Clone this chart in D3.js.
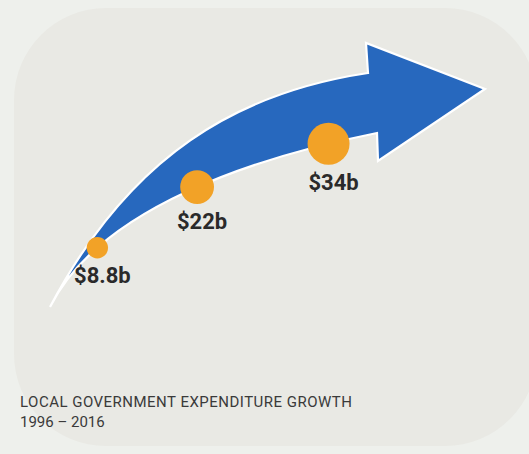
<!DOCTYPE html>
<html>
<head>
<meta charset="utf-8">
<script src="https://cdn.jsdelivr.net/npm/d3@7"></script>
<style>
  html, body { margin: 0; padding: 0; background: #eef0ec; }
  svg { display: block; }
</style>
</head>
<body>
<svg id="chart" width="529" height="454"></svg>
<script>
// Spending figures shown on the arrow
const labels = ["$8.8b", "$22b", "$34b"];
const values = [8.8, 22, 34];
const titleLines = ["LOCAL GOVERNMENT EXPENDITURE GROWTH", "1996 – 2016"];

const svg = d3.select("#chart");

// Rounded backing panel
svg.append("rect")
  .attr("x", 14).attr("y", 8)
  .attr("width", 523).attr("height", 438)
  .attr("rx", 92).attr("ry", 92)
  .attr("fill", "#e9e9e4");

// Arrow geometry: tail, upper and lower curved edges, triangular head
const tail = [50, 307];
const upper = { c1: [130, 155], c2: [238, 92.5], end: [368, 73] };
const lower = { c1: [100, 207], c2: [257, 157], end: [377, 133] };
const head = [[366, 43], [485, 89], [378, 161]];

const arrow = d3.path();
arrow.moveTo(...tail);
arrow.bezierCurveTo(...upper.c1, ...upper.c2, ...upper.end);
head.forEach(p => arrow.lineTo(...p));
arrow.lineTo(...lower.end);
arrow.bezierCurveTo(...lower.c2, ...lower.c1, ...tail);
arrow.closePath();

svg.append("path")
  .attr("d", arrow.toString())
  .attr("fill", "#2768be")
  .attr("stroke", "#ffffff")
  .attr("stroke-width", 2.2)
  .attr("stroke-linejoin", "miter");

// Lower edge as a track for the dots
const trackPath = d3.path();
trackPath.moveTo(...tail);
trackPath.bezierCurveTo(...lower.c1, ...lower.c2, ...lower.end);
const track = svg.append("path")
  .attr("d", trackPath.toString())
  .attr("fill", "none")
  .attr("stroke", "none");
const trackLen = track.node().getTotalLength();

// Position of each figure along the track; dot area proportional to value
const along = d3.scaleLinear().domain([0, 1, 2]).range([0.2, 0.507, 0.87]);
const radius = d3.scaleSqrt().domain([0, d3.max(values)]).range([0, 21]);

const points = values.map((v, i) => {
  const p = track.node().getPointAtLength(along(i) * trackLen);
  return { x: p.x, y: p.y, r: radius(v), label: labels[i] };
});

svg.append("g").selectAll("circle")
  .data(points)
  .join("circle")
  .attr("cx", d => d.x)
  .attr("cy", d => d.y)
  .attr("r", d => d.r)
  .attr("fill", "#f2a227");

svg.append("g").selectAll("text")
  .data(points)
  .join("text")
  .attr("x", d => d.x + 5)
  .attr("y", d => d.y + d.r + 25)
  .attr("text-anchor", "middle")
  .attr("font-family", "Roboto, 'DejaVu Sans', sans-serif")
  .attr("font-weight", 700)
  .attr("font-size", 22)
  .attr("fill", "#2a2a2a")
  .text(d => d.label);

// Caption
const caption = svg.append("g")
  .attr("font-family", "Roboto, 'DejaVu Sans', sans-serif")
  .attr("font-size", 15)
  .attr("fill", "#3a3a3a");

caption.selectAll("text")
  .data(titleLines)
  .join("text")
  .attr("x", 20)
  .attr("y", (d, i) => 407 + i * 20)
  .text(d => d);

// Stretch the heading to its set width
const headNode = caption.select("text").node();
const measured = headNode.getComputedTextLength();
const spacing = (332 - measured) / (titleLines[0].length - 1);
caption.select("text").attr("letter-spacing", spacing);
</script>
</body>
</html>
